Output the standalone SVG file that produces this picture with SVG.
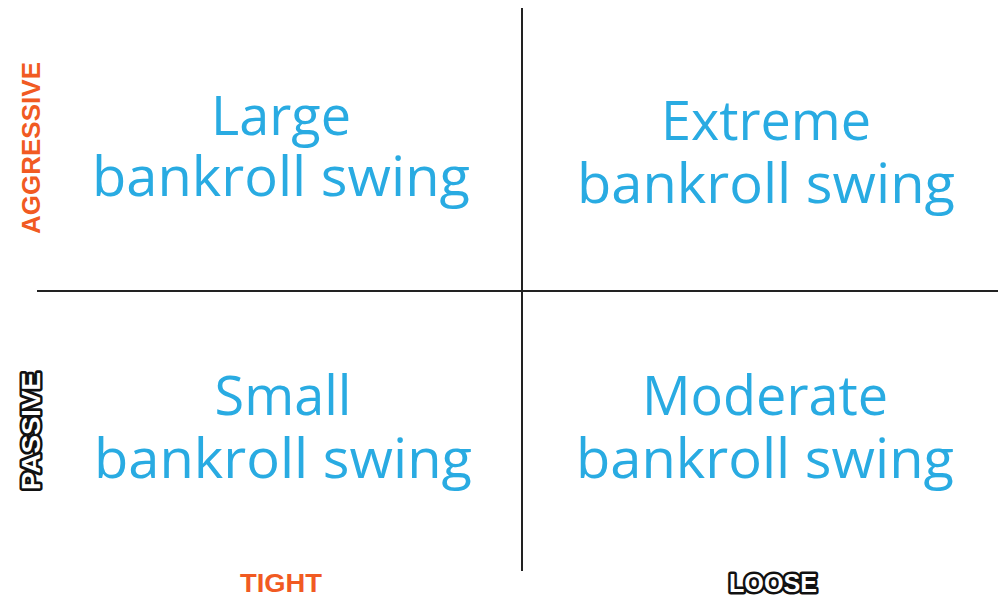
<svg xmlns="http://www.w3.org/2000/svg" width="998" height="600" viewBox="0 0 998 600">
<style>
.q{font-family:"Open Sans","Liberation Sans",sans-serif;font-size:54px;fill:#29abe2;text-anchor:middle}
.ax{font-family:"Liberation Sans",Arial,sans-serif;font-weight:bold;font-size:25px;text-anchor:middle}
.or{fill:#f15a22}
.bw{fill:#fff;stroke:#111;stroke-width:5;paint-order:stroke;stroke-linejoin:round}
</style>
<rect width="998" height="600" fill="#fff"/>
<g id="connectors" stroke="#222" stroke-width="2">
<line x1="522" y1="8" x2="522" y2="571"/>
<line x1="37" y1="291" x2="998" y2="291"/>
</g>
<g id="q-large"><text class="q" x="281" y="135">Large</text><text class="q" x="281" y="196" textLength="378" lengthAdjust="spacingAndGlyphs">bankroll swing</text></g>
<g id="q-extreme"><text class="q" x="766" y="140">Extreme</text><text class="q" x="766" y="203" textLength="378" lengthAdjust="spacingAndGlyphs">bankroll swing</text></g>
<g id="q-small"><text class="q" x="283" y="415">Small</text><text class="q" x="283" y="478" textLength="378" lengthAdjust="spacingAndGlyphs">bankroll swing</text></g>
<g id="q-moderate"><text class="q" x="765" y="415">Moderate</text><text class="q" x="765" y="478" textLength="378" lengthAdjust="spacingAndGlyphs">bankroll swing</text></g>
<g id="ax-aggressive"><text class="ax or" transform="translate(40,148) rotate(-90)" textLength="172" lengthAdjust="spacingAndGlyphs">AGGRESSIVE</text></g>
<g id="ax-passive"><text class="ax bw" transform="translate(40,431) rotate(-90)" textLength="118" lengthAdjust="spacingAndGlyphs">PASSIVE</text></g>
<g id="ax-tight"><text class="ax or" x="281" y="592" textLength="82" lengthAdjust="spacingAndGlyphs">TIGHT</text></g>
<g id="ax-loose"><text class="ax bw" x="773" y="592" textLength="88" lengthAdjust="spacingAndGlyphs">LOOSE</text></g>
</svg>
